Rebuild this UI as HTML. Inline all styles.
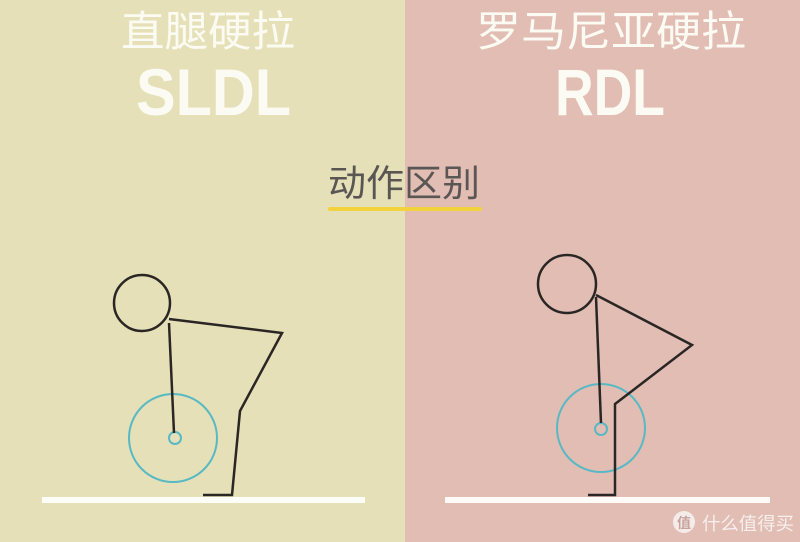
<!DOCTYPE html>
<html><head><meta charset="utf-8"><style>
html,body{margin:0;padding:0;width:800px;height:542px;overflow:hidden}
svg{display:block}
</style></head><body>
<svg width="800" height="542" viewBox="0 0 800 542" xmlns="http://www.w3.org/2000/svg">
<rect x="0" y="0" width="405" height="542" fill="#e5e0b7"/>
<rect x="405" y="0" width="395" height="542" fill="#e2bdb4"/>
<g fill="#fbfbf3" font-family="Liberation Sans, Noto Sans CJK SC, sans-serif">
<text x="121" y="46" font-size="42" textLength="174" lengthAdjust="spacingAndGlyphs">直腿硬拉</text>
<text x="136" y="115" font-size="66" font-weight="bold" textLength="155" lengthAdjust="spacingAndGlyphs">SLDL</text>
<text x="476" y="46" font-size="42" textLength="270" lengthAdjust="spacingAndGlyphs">罗马尼亚硬拉</text>
<text x="555" y="115" font-size="66" font-weight="bold" textLength="110" lengthAdjust="spacingAndGlyphs">RDL</text>
</g>
<text x="328" y="196" font-size="37" fill="#5a5654" font-family="Liberation Sans, Noto Sans CJK SC, sans-serif" textLength="152" lengthAdjust="spacingAndGlyphs">动作区别</text>
<rect x="328" y="207" width="154" height="4" rx="2" fill="#f2d33d"/>
<rect x="42" y="497" width="323" height="6" fill="#fdfdf8"/>
<rect x="445" y="497" width="325" height="6" fill="#fdfbf8"/>
<g fill="none" stroke-width="2.5" stroke-linejoin="miter">
<circle cx="173" cy="438" r="44" stroke="#58b9c4" stroke-width="2"/>
<circle cx="175" cy="438" r="6" stroke="#58b9c4" stroke-width="2"/>
<circle cx="142" cy="303" r="28" stroke="#2a2624"/>
<polyline points="169,319 282,333 240,411 232,495 203,495" stroke="#2a2624"/>
<line x1="169" y1="323" x2="174" y2="433" stroke="#2a2624"/>
</g>
<g fill="none" stroke-width="2.5">
<circle cx="601" cy="428" r="44" stroke="#58b9c4" stroke-width="2"/>
<circle cx="601" cy="429" r="6" stroke="#58b9c4" stroke-width="2"/>
<circle cx="567" cy="284" r="29" stroke="#2a2624"/>
<polyline points="596,295 692,345 615,404 615,495 588,495" stroke="#2a2624"/>
<line x1="596" y1="297" x2="601" y2="423" stroke="#2a2624"/>
</g>
<circle cx="684" cy="522" r="11" fill="#f4ecea"/>
<text x="677" y="528" font-size="14" font-weight="bold" fill="#c9a39b" font-family="Noto Sans CJK SC, sans-serif">值</text>
<text x="702" y="530" font-size="18" fill="#f6efed" font-family="Liberation Sans, Noto Sans CJK SC, sans-serif" textLength="92" lengthAdjust="spacingAndGlyphs">什么值得买</text>
</svg>
</body></html>
